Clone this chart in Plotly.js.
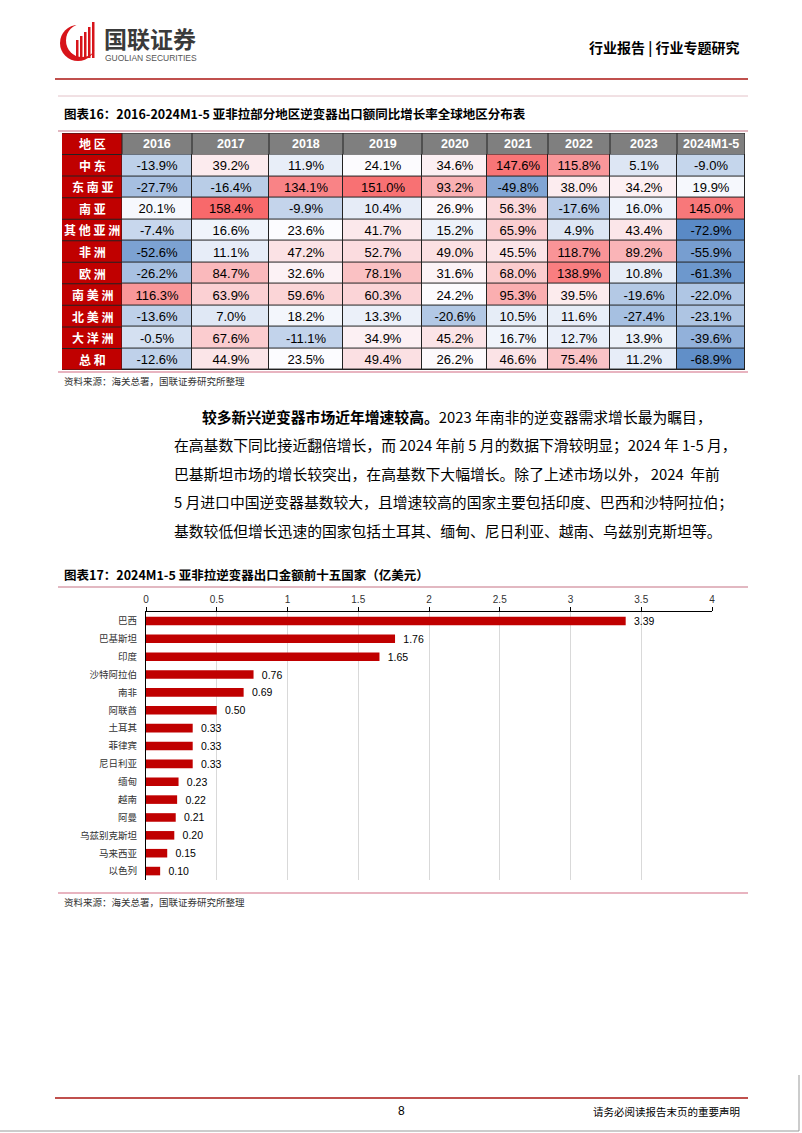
<!DOCTYPE html>
<html>
<head>
<meta charset="utf-8">
<script src="https://cdn.plot.ly/plotly-3.0.1.min.js"></script>
<style>
  html, body { margin: 0; padding: 0; background: #fff; }
  #page { width: 802px; height: 1133px; }
</style>
</head>
<body>
<div id="page"></div>
<script>
// 表16 数据
const years = ['2016', '2017', '2018', '2019', '2020', '2021', '2022', '2023', '2024M1-5'];
const regions = ['中东', '东南亚', '南亚', '其他亚洲', '非洲', '欧洲', '南美洲', '北美洲', '大洋洲', '总和'];
const growth = [
  [-13.9, 39.2, 11.9, 24.1, 34.6, 147.6, 115.8, 5.1, -9.0],
  [-27.7, -16.4, 134.1, 151.0, 93.2, -49.8, 38.0, 34.2, 19.9],
  [20.1, 158.4, -9.9, 10.4, 26.9, 56.3, -17.6, 16.0, 145.0],
  [-7.4, 16.6, 23.6, 41.7, 15.2, 65.9, 4.9, 43.4, -72.9],
  [-52.6, 11.1, 47.2, 52.7, 49.0, 45.5, 118.7, 89.2, -55.9],
  [-26.2, 84.7, 32.6, 78.1, 31.6, 68.0, 138.9, 10.8, -61.3],
  [116.3, 63.9, 59.6, 60.3, 24.2, 95.3, 39.5, -19.6, -22.0],
  [-13.6, 7.0, 18.2, 13.3, -20.6, 10.5, 11.6, -27.4, -23.1],
  [-0.5, 67.6, -11.1, 34.9, 45.2, 16.7, 12.7, 13.9, -39.6],
  [-12.6, 44.9, 23.5, 49.4, 26.2, 46.6, 75.4, 11.2, -68.9]
];

// 表17 数据
const countries = ['巴西', '巴基斯坦', '印度', '沙特阿拉伯', '南非', '阿联酋', '土耳其', '菲律宾',
                   '尼日利亚', '缅甸', '越南', '阿曼', '乌兹别克斯坦', '马来西亚', '以色列'];
const exportValue = [3.39, 1.76, 1.65, 0.76, 0.69, 0.50, 0.33, 0.33, 0.33, 0.23, 0.22, 0.21, 0.20, 0.15, 0.10];

const paragraph = [
  '<b>较多新兴逆变器市场近年增速较高。</b>2023 年南非的逆变器需求增长最为瞩目，',
  '在高基数下同比接近翻倍增长，而 2024 年前 5 月的数据下滑较明显；2024 年 1-5 月，',
  '巴基斯坦市场的增长较突出，在高基数下大幅增长。除了上述市场以外， 2024  年前',
  '5 月进口中国逆变器基数较大，且增速较高的国家主要包括印度、巴西和沙特阿拉伯；',
  '基数较低但增长迅速的国家包括土耳其、缅甸、尼日利亚、越南、乌兹别克斯坦等。'
];

// 版式
const W = 802, H = 1133;
const px = x => x / W;
const py = y => 1 - y / H;
const CJK = 'Noto Sans CJK SC, sans-serif';
const ARIAL = 'Liberation Sans, Arial, sans-serif';
const colWidths = [70, 77, 74, 79, 65, 61, 62, 67, 68];
const firstColW = 60;
const edges = [0];
colWidths.forEach(w => edges.push(edges[edges.length - 1] + w));
const tableRight = edges[edges.length - 1];

// 三色刻度：最小值蓝、中位数白、最大值红
const flat = growth.flat().slice().sort((a, b) => a - b);
const zmin = flat[0], zmax = flat[flat.length - 1];
const n = flat.length;
const median = n % 2 ? flat[(n - 1) / 2] : (flat[n / 2 - 1] + flat[n / 2]) / 2;
const midFrac = (median - zmin) / (zmax - zmin);

const heat = {
  type: 'heatmap',
  z: growth,
  x: edges,
  y: regions,
  xaxis: 'x',
  yaxis: 'y',
  zmin: zmin,
  zmax: zmax,
  colorscale: [[0, '#5A8AC6'], [midFrac, '#FCFCFF'], [1, '#F8696B']],
  showscale: false,
  xgap: 1,
  ygap: 1,
  texttemplate: '%{z:.1f}%',
  textfont: { family: ARIAL, size: 13, color: '#000' },
  hoverinfo: 'skip'
};

const bars = {
  type: 'bar',
  orientation: 'h',
  x: exportValue,
  y: countries,
  xaxis: 'x2',
  yaxis: 'y2',
  width: 0.48,
  marker: { color: '#C00000' },
  text: exportValue.map(v => '\u2002' + v.toFixed(2)),
  textposition: 'outside',
  constraintext: 'none',
  textfont: { family: ARIAL, size: 10.5, color: '#000' },
  cliponaxis: false,
  hoverinfo: 'skip'
};

const shapes = [];
const annotations = [];

// 页眉
shapes.push({ type: 'line', xref: 'paper', yref: 'paper', x0: px(55), x1: px(748), y0: py(79), y1: py(79),
  line: { color: '#C0504D', width: 2 } });
// 标志
shapes.push({ type: 'circle', xref: 'paper', yref: 'paper', x0: px(60), x1: px(96), y0: py(61), y1: py(25),
  fillcolor: '#D7141A', line: { width: 0 } });
shapes.push({ type: 'circle', xref: 'paper', yref: 'paper', x0: px(66), x1: px(98), y0: py(57), y1: py(24),
  fillcolor: '#fff', line: { width: 0 } });
[[76, 48, 40], [80, 44, 36], [84, 40, 32], [88, 35, 27], [92, 30, 22]].forEach(b => {
  shapes.push({ type: 'rect', xref: 'paper', yref: 'paper', x0: px(b[0]), x1: px(b[0] + 2.5),
    y0: py(58), y1: py(b[2]), fillcolor: '#D7141A', line: { width: 0 } });
});
annotations.push({ xref: 'paper', yref: 'paper', x: px(102), y: py(38), xanchor: 'left', yanchor: 'middle',
  text: '<b>国联证券</b>', showarrow: false, font: { family: CJK, size: 23, color: '#3a3a3a' } });
annotations.push({ xref: 'paper', yref: 'paper', x: px(103), y: py(57.5), xanchor: 'left', yanchor: 'middle',
  text: 'GUOLIAN SECURITIES', showarrow: false, font: { family: ARIAL, size: 8.5, color: '#555' } });
annotations.push({ xref: 'paper', yref: 'paper', x: px(742), y: py(47), xanchor: 'right', yanchor: 'middle',
  text: '<b>行业报告 | 行业专题研究</b>', showarrow: false, font: { family: CJK, size: 14, color: '#000' } });

// 表16 标题
shapes.push({ type: 'line', xref: 'paper', yref: 'paper', x0: px(58), x1: px(748), y0: py(96), y1: py(96),
  line: { color: '#E3C2C8', width: 1 } });
annotations.push({ xref: 'paper', yref: 'paper', x: px(62), y: py(113), xanchor: 'left', yanchor: 'middle',
  text: '<b>图表16：2016-2024M1-5 亚非拉部分地区逆变器出口额同比增长率全球地区分布表</b>',
  showarrow: false, font: { family: CJK, size: 12.5, color: '#000' } });
shapes.push({ type: 'line', xref: 'paper', yref: 'paper', x0: px(58), x1: px(748), y0: py(131), y1: py(131),
  line: { color: '#D9A0AD', width: 1.5 } });

// 表格：边框底、表头、首列
shapes.push({ type: 'rect', xref: 'x', yref: 'y', x0: -firstColW, x1: tableRight, y0: -1.5, y1: 9.5,
  fillcolor: '#222', line: { width: 0 }, layer: 'below' });
const yIn = 0.5 / 21.5;
years.forEach((yr, i) => {
  shapes.push({ type: 'rect', xref: 'x', yref: 'y', x0: edges[i] + 0.5, x1: edges[i + 1] - 0.5,
    y0: -1.5 + yIn, y1: -0.5 - yIn, fillcolor: '#7F7F7F', line: { width: 0 } });
  annotations.push({ xref: 'x', yref: 'y', x: (edges[i] + edges[i + 1]) / 2, y: -1, text: '<b>' + yr + '</b>',
    showarrow: false, font: { family: ARIAL, size: 12.5, color: '#fff' } });
});
['地区'].concat(regions).forEach((r, i) => {
  const row = i - 1;
  shapes.push({ type: 'rect', xref: 'x', yref: 'y', x0: -firstColW, x1: -0.5,
    y0: row - 0.5 + yIn, y1: row + 0.5 - yIn, fillcolor: '#C00000', line: { width: 0 } });
  annotations.push({ xref: 'x', yref: 'y', x: -firstColW / 2, y: row, text: '<b>' + r.split('').join(' ') + '</b>',
    showarrow: false, font: { family: CJK, size: 12, color: '#fff' } });
});
shapes.push({ type: 'line', xref: 'paper', yref: 'paper', x0: px(58), x1: px(748), y0: py(372), y1: py(372),
  line: { color: '#E8B4C0', width: 2 } });
annotations.push({ xref: 'paper', yref: 'paper', x: px(62), y: py(381), xanchor: 'left', yanchor: 'middle',
  text: '资料来源：海关总署，国联证券研究所整理', showarrow: false, font: { family: CJK, size: 9.5, color: '#333' } });

// 正文
paragraph.forEach((t, i) => {
  annotations.push({ xref: 'paper', yref: 'paper', x: px(i === 0 ? 200 : 172), y: py(416 + i * 28.5),
    xanchor: 'left', yanchor: 'middle', text: t, showarrow: false,
    font: { family: CJK, size: 14.8, color: '#000' } });
});

// 表17 标题
annotations.push({ xref: 'paper', yref: 'paper', x: px(62), y: py(574), xanchor: 'left', yanchor: 'middle',
  text: '<b>图表17：2024M1-5 亚非拉逆变器出口金额前十五国家（亿美元）</b>',
  showarrow: false, font: { family: CJK, size: 12.5, color: '#000' } });
shapes.push({ type: 'line', xref: 'paper', yref: 'paper', x0: px(58), x1: px(748), y0: py(587), y1: py(587),
  line: { color: '#D9A0AD', width: 1.5 } });
shapes.push({ type: 'line', xref: 'paper', yref: 'paper', x0: px(58), x1: px(748), y0: py(893), y1: py(893),
  line: { color: '#E8B4C0', width: 2 } });
annotations.push({ xref: 'paper', yref: 'paper', x: px(62), y: py(902), xanchor: 'left', yanchor: 'middle',
  text: '资料来源：海关总署，国联证券研究所整理', showarrow: false, font: { family: CJK, size: 9.5, color: '#333' } });

// 页脚
shapes.push({ type: 'line', xref: 'paper', yref: 'paper', x0: px(55), x1: px(748), y0: py(1098), y1: py(1098),
  line: { color: '#C0504D', width: 2 } });
annotations.push({ xref: 'paper', yref: 'paper', x: px(401), y: py(1111), xanchor: 'center', yanchor: 'middle',
  text: '8', showarrow: false, font: { family: ARIAL, size: 12, color: '#000' } });
annotations.push({ xref: 'paper', yref: 'paper', x: px(742), y: py(1111), xanchor: 'right', yanchor: 'middle',
  text: '请务必阅读报告末页的重要声明', showarrow: false, font: { family: CJK, size: 10.5, color: '#000' } });
shapes.push({ type: 'line', xref: 'paper', yref: 'paper', x0: px(799), x1: px(799), y0: py(1075), y1: py(1131),
  line: { color: '#999', width: 1 } });
shapes.push({ type: 'line', xref: 'paper', yref: 'paper', x0: px(0), x1: px(799), y0: py(1131), y1: py(1131),
  line: { color: '#999', width: 1 } });

const layout = {
  width: W,
  height: H,
  margin: { l: 0, r: 0, t: 0, b: 0 },
  paper_bgcolor: '#fff',
  plot_bgcolor: 'rgba(0,0,0,0)',
  showlegend: false,
  xaxis: {
    domain: [px(62), px(745)],
    range: [-firstColW, tableRight],
    visible: false,
    fixedrange: true
  },
  yaxis: {
    domain: [py(370), py(133)],
    type: 'category',
    categoryarray: regions,
    range: [9.5, -1.5],
    visible: false,
    fixedrange: true
  },
  xaxis2: {
    domain: [px(146), px(712)],
    anchor: 'y2',
    side: 'top',
    range: [0, 4],
    dtick: 0.5,
    showgrid: true,
    gridcolor: '#D9D9D9',
    showline: true,
    linecolor: '#000',
    linewidth: 1,
    ticks: 'outside',
    ticklen: 4,
    tickcolor: '#000',
    zeroline: false,
    tickfont: { family: ARIAL, size: 10, color: '#333' }
  },
  yaxis2: {
    domain: [py(880), py(612)],
    anchor: 'x2',
    type: 'category',
    categoryarray: countries,
    autorange: 'reversed',
    showline: true,
    linecolor: '#000',
    linewidth: 1,
    ticks: '',
    ticklabelstandoff: 6,
    tickfont: { family: CJK, size: 9.5, color: '#333' }
  },
  shapes: shapes,
  annotations: annotations
};

Plotly.newPlot('page', [heat, bars], layout, { displayModeBar: false, staticPlot: true });
</script>
</body>
</html>
